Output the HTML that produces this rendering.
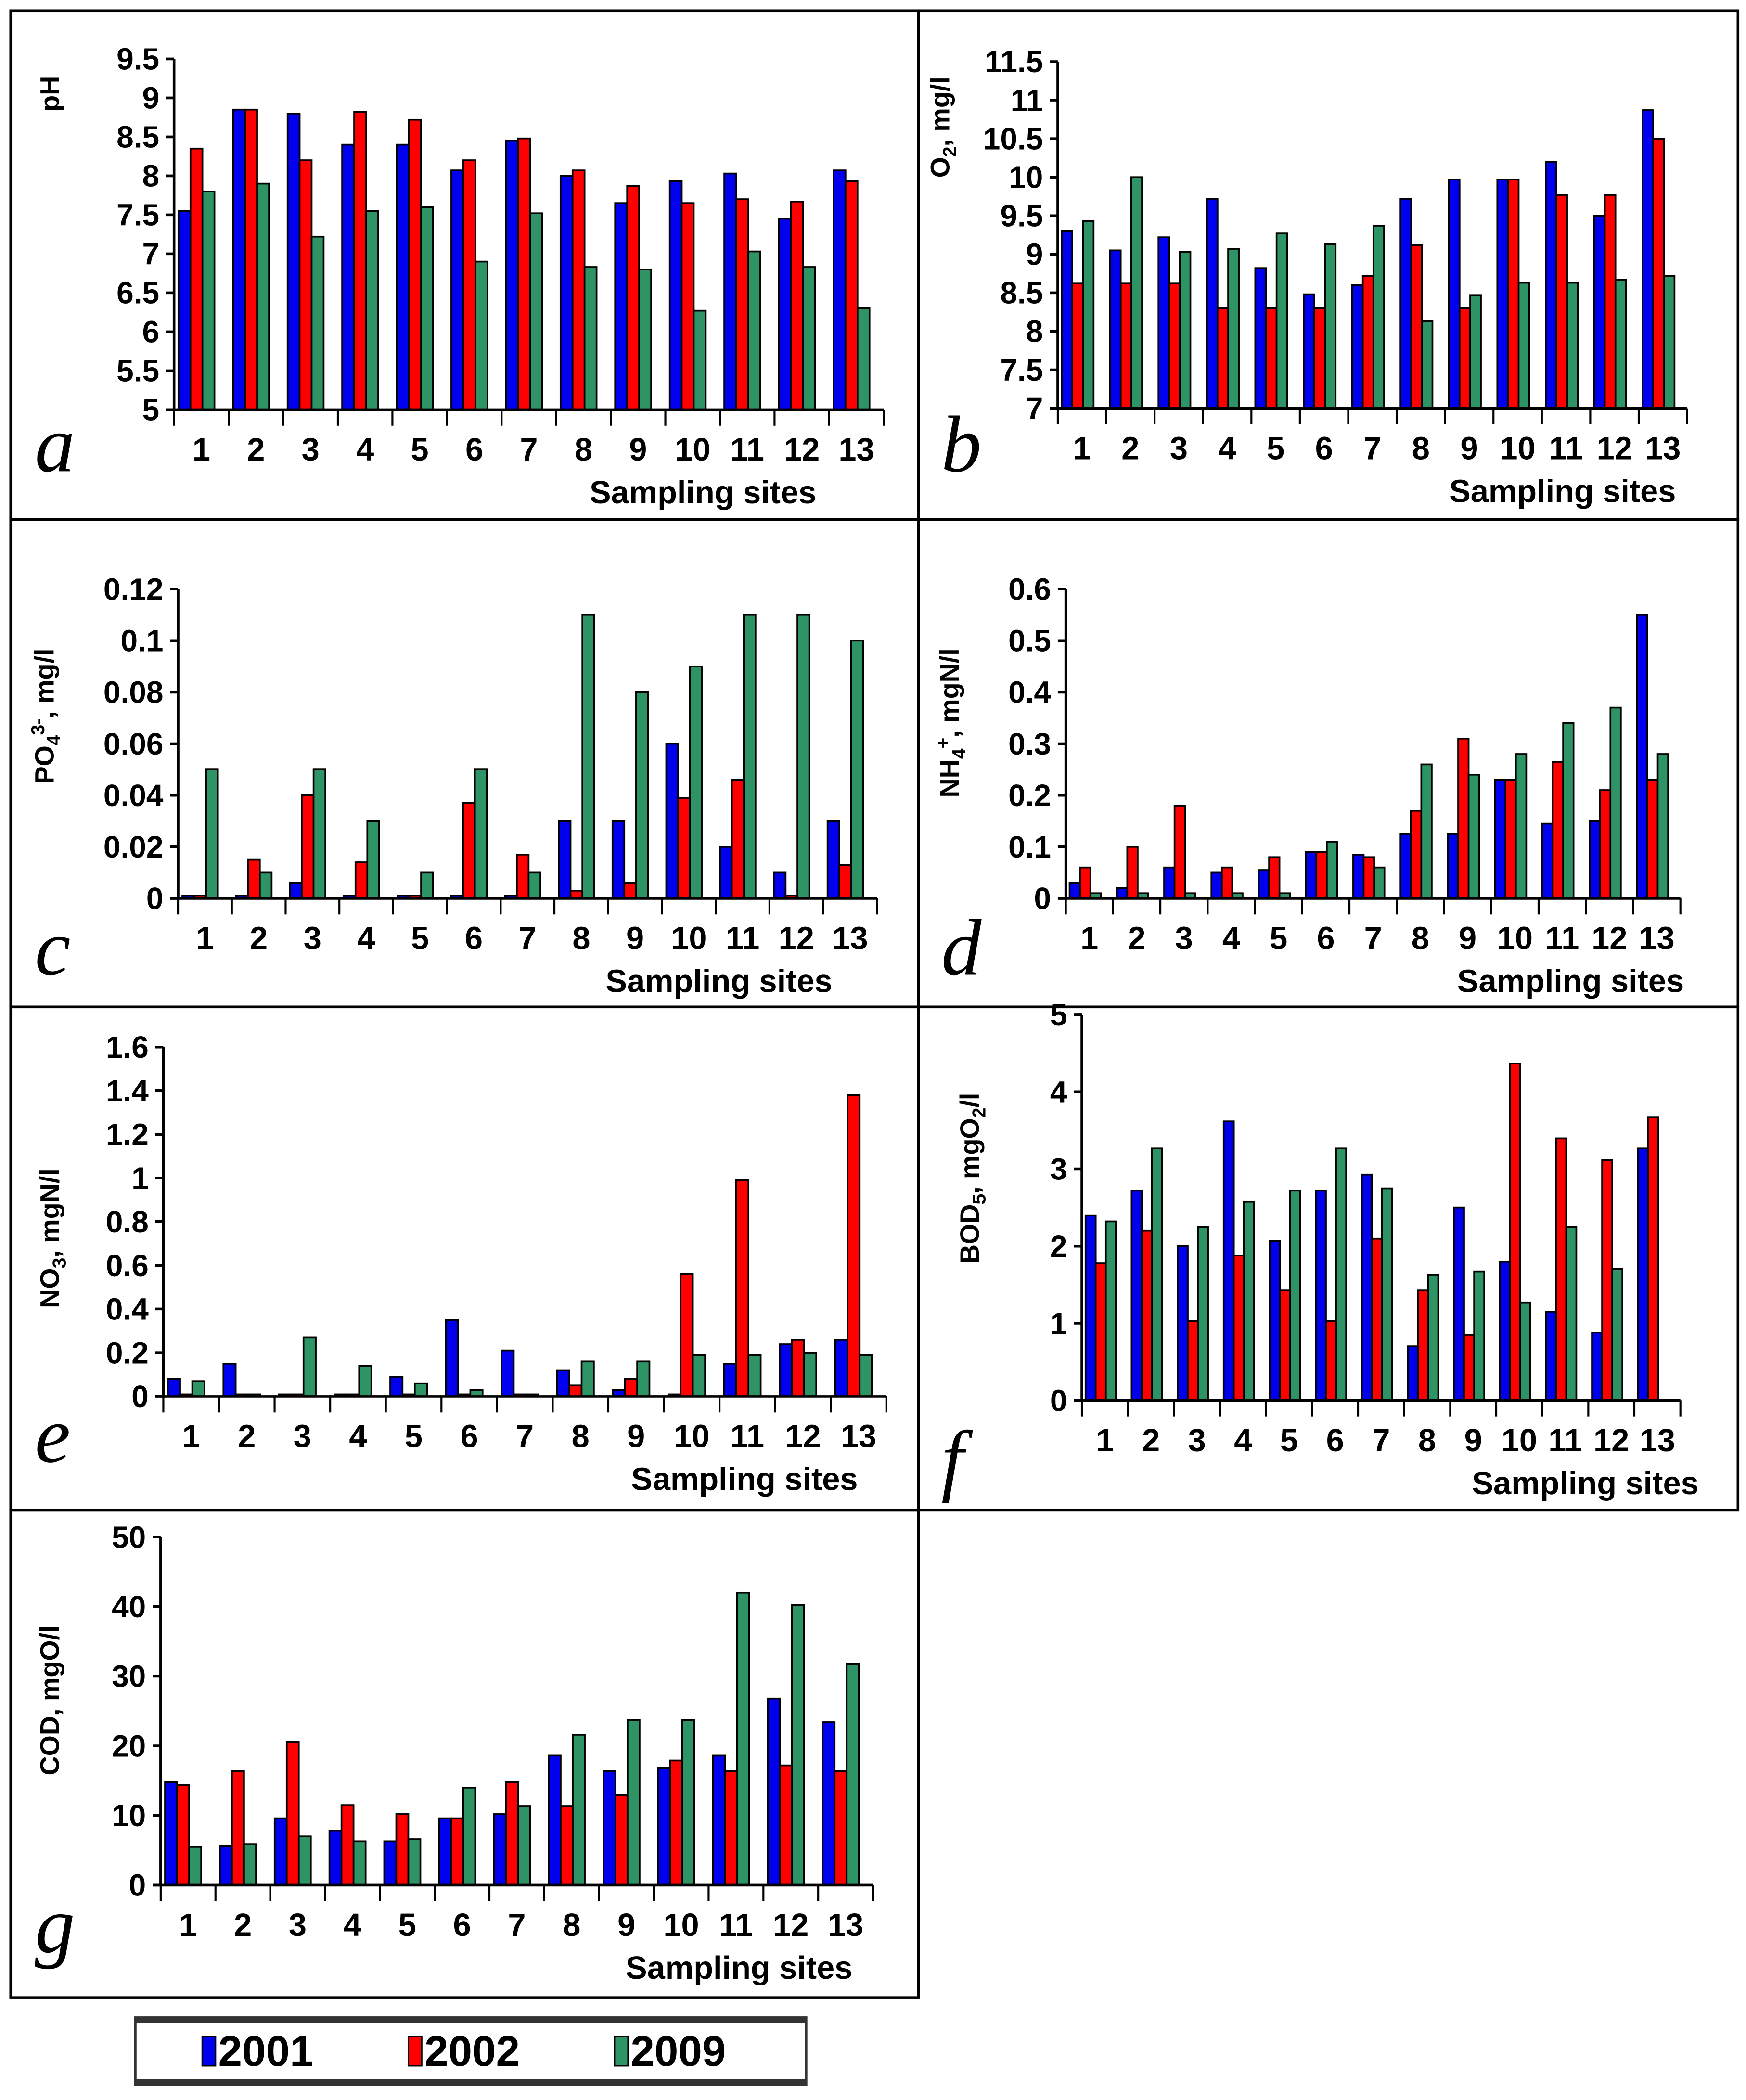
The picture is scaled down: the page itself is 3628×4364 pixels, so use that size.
<!DOCTYPE html>
<html><head><meta charset="utf-8"><style>
html,body{margin:0;padding:0;background:#fff;}
svg{display:block;}
text{font-family:"Liberation Sans Narrow","Liberation Sans",sans-serif;font-weight:bold;fill:#000;}
</style></head><body>
<svg id="fig" xmlns="http://www.w3.org/2000/svg" width="3628" height="4364" viewBox="0 0 1304 1568.5" preserveAspectRatio="none">
<rect x="0" y="0" width="1304" height="1568.5" fill="#fff"/>
<g id="frames" fill="none" stroke="#000" stroke-width="2">
<rect x="8" y="8" width="678" height="380"/>
<rect x="686" y="8" width="612" height="380"/>
<rect x="8" y="388" width="678" height="364"/>
<rect x="686" y="388" width="612" height="364"/>
<rect x="8" y="752" width="678" height="376"/>
<rect x="686" y="752" width="612" height="376"/>
<rect x="8" y="1128" width="678" height="364"/>
</g>
<g id="legend">
<rect x="101" y="1507" width="501" height="50" fill="#fff" stroke="#333" stroke-width="2"/>
<rect x="101" y="1507" width="501" height="4" fill="#333"/>
<rect x="101" y="1553" width="501" height="4" fill="#333"/>
<rect x="151" y="1521" width="10" height="22" fill="#0000ee" stroke="#000" stroke-width="1"/>
<text x="163" y="1543" font-size="32" style="font-family:'Liberation Sans',sans-serif">2001</text>
<rect x="305" y="1521" width="10" height="22" fill="#ff0000" stroke="#000" stroke-width="1"/>
<text x="317" y="1543" font-size="32" style="font-family:'Liberation Sans',sans-serif">2002</text>
<rect x="459" y="1521" width="10" height="22" fill="#2e9466" stroke="#000" stroke-width="1"/>
<text x="471" y="1543" font-size="32" style="font-family:'Liberation Sans',sans-serif">2009</text>
</g>
</svg>
<script>
const sites = ["1","2","3","4","5","6","7","8","9","10","11","12","13"];
const colors2001 = "#0000ee", colors2002 = "#ff0000", colors2009 = "#2e9466";
const pH2001 = [7.55,8.85,8.8,8.4,8.4,8.07,8.45,8.0,7.65,7.93,8.03,7.45,8.07];
const pH2002 = [8.35,8.85,8.2,8.82,8.72,8.2,8.48,8.07,7.87,7.65,7.7,7.67,7.93];
const pH2009 = [7.8,7.9,7.22,7.55,7.6,6.9,7.52,6.83,6.8,6.27,7.03,6.83,6.3];
const pHTicks = ["5","5.5","6","6.5","7","7.5","8","8.5","9","9.5"];
const o2_2001 = [9.3,9.05,9.22,9.72,8.82,8.48,8.6,9.72,9.97,9.97,10.2,9.5,10.87];
const o2_2002 = [8.62,8.62,8.62,8.3,8.3,8.3,8.72,9.12,8.3,9.97,9.77,9.77,10.5];
const o2_2009 = [9.43,10.0,9.03,9.07,9.27,9.13,9.37,8.13,8.47,8.63,8.63,8.67,8.72];
const o2Ticks = ["7","7.5","8","8.5","9","9.5","10","10.5","11","11.5"];
const po4_2001 = [0.001,0.001,0.006,0.001,0.001,0.001,0.001,0.03,0.03,0.06,0.02,0.01,0.03];
const po4_2002 = [0.001,0.015,0.04,0.014,0.001,0.037,0.017,0.003,0.006,0.039,0.046,0.001,0.013];
const po4_2009 = [0.05,0.01,0.05,0.03,0.01,0.05,0.01,0.11,0.08,0.09,0.11,0.11,0.1];
const po4Ticks = ["0","0.02","0.04","0.06","0.08","0.1","0.12"];
const nh4_2001 = [0.03,0.02,0.06,0.05,0.055,0.09,0.085,0.125,0.125,0.23,0.145,0.15,0.55];
const nh4_2002 = [0.06,0.1,0.18,0.06,0.08,0.09,0.08,0.17,0.31,0.23,0.265,0.21,0.23];
const nh4_2009 = [0.01,0.01,0.01,0.01,0.01,0.11,0.06,0.26,0.24,0.28,0.34,0.37,0.28];
const nh4Ticks = ["0","0.1","0.2","0.3","0.4","0.5","0.6"];
const no3_2001 = [0.08,0.15,0.01,0.01,0.09,0.35,0.21,0.12,0.03,0.01,0.15,0.24,0.26];
const no3_2002 = [0.01,0.01,0.01,0.01,0.01,0.01,0.01,0.05,0.08,0.56,0.99,0.26,1.38];
const no3_2009 = [0.07,0.01,0.27,0.14,0.06,0.03,0.01,0.16,0.16,0.19,0.19,0.2,0.19];
const no3Ticks = ["0","0.2","0.4","0.6","0.8","1","1.2","1.4","1.6"];
const bod2001 = [2.4,2.72,2.0,3.62,2.07,2.72,2.93,0.7,2.5,1.8,1.15,0.88,3.27];
const bod2002 = [1.78,2.2,1.03,1.88,1.43,1.03,2.1,1.43,0.85,4.37,3.4,3.12,3.67];
const bod2009 = [2.32,3.27,2.25,2.58,2.72,3.27,2.75,1.63,1.67,1.27,2.25,1.7,0];
const bodTicks = ["0","1","2","3","4","5"];
const cod2001 = [14.8,5.6,9.6,7.8,6.3,9.6,10.2,18.6,16.4,16.8,18.6,26.8,23.4];
const cod2002 = [14.4,16.4,20.5,11.5,10.2,9.6,14.8,11.3,12.9,17.9,16.4,17.2,16.4];
const cod2009 = [5.5,5.9,7.0,6.3,6.6,14.0,11.3,21.6,23.7,23.7,42.0,40.2,31.8];
const codTicks = ["0","10","20","30","40","50"];

const NS = "http://www.w3.org/2000/svg";
const svg = document.getElementById('fig');
function mk(tag, attrs, parent){const e=document.createElementNS(NS,tag);for(const k in attrs)e.setAttribute(k,attrs[k]);parent.appendChild(e);return e;}

function panel(cfg){
  const g = mk('g',{},svg);
  
  
  const ticks = cfg.ticks.map(Number);
  const ymin = ticks[0], ymax = ticks[ticks.length-1];
  const yScale = v => cfg.y0 - (Math.max(v,ymin)-ymin)/(ymax-ymin)*(cfg.y0-cfg.y1);
  const gw = (cfg.x1-cfg.x0)/sites.length;
  const xScale = (i,s) => cfg.x0 + i*gw + gw*0.08 + s*gw*0.22;
  const series = [[cfg.s1,colors2001,'2001'],[cfg.s2,colors2002,'2002'],[cfg.s3,colors2009,'2009']];
  series.forEach((sr,s)=>{
    sr[0].forEach((v,i)=>{
      if(v<=ymin) return;
      const y = yScale(v);
      const r = mk('rect',{x:xScale(i,s),y:y,width:gw*0.22,height:cfg.y0-y,fill:sr[1],stroke:'#000','stroke-width':1.3},g);
      
      
    });
  });
  const ax = mk('g',{stroke:'#000','stroke-width':2},g);
  
  
  mk('line',{x1:cfg.x0,y1:cfg.y1,x2:cfg.x0,y2:cfg.y0+1},ax);
  mk('line',{x1:cfg.x0-6,y1:cfg.y0,x2:cfg.x1,y2:cfg.y0},ax);
  ticks.forEach((t,k)=>{
    const y = yScale(t);
    mk('line',{x1:cfg.x0-6,y1:y,x2:cfg.x0,y2:y},ax);
    const tx = mk('text',{x:cfg.x0-11,y:y+8,'font-size':23,'text-anchor':'end'},g);
    tx.textContent = cfg.ticks[k];
    
    
  });
  for(let i=0;i<=sites.length;i++){
    const x = cfg.x0 + i*gw;
    mk('line',{x1:x,y1:cfg.y0,x2:x,y2:cfg.y0+12,'stroke-width':1.5},ax);
  }
  sites.forEach((s,i)=>{
    const tx = mk('text',{x:cfg.x0+(i+0.5)*gw,y:cfg.y0+38,'font-size':24,'text-anchor':'middle'},g);
    tx.textContent = s;
    
    
  });
  const xt = mk('text',{x:cfg.xtx,y:cfg.y0+70,'font-size':24,'text-anchor':'middle'},g);
  xt.textContent = 'Sampling sites';
  
  
  const yt = mk('text',{x:0,y:0,'font-size':20,'text-anchor':'middle',style:"font-family:'Liberation Sans',sans-serif",transform:'translate('+cfg.ytx+','+cfg.yty+') rotate(-90)'},g);
  yt.innerHTML = cfg.ytitle;
  
  
  const lt = mk('text',{x:cfg.lx,y:cfg.ly,'font-size':60,style:"font-family:'Liberation Serif',serif;font-style:italic;font-weight:normal"},g);
  lt.textContent = cfg.id;
  
  
}

panel({id:'a',x0:130,x1:660,y0:306,y1:44,ticks:pHTicks,s1:pH2001,s2:pH2002,s3:pH2009,xtx:525,ytx:44,yty:70,ytitle:'pH',lx:26,ly:352});
panel({id:'b',x0:790,x1:1260,y0:305,y1:46,ticks:o2Ticks,s1:o2_2001,s2:o2_2002,s3:o2_2009,xtx:1167,ytx:709,yty:95,ytitle:'O<tspan font-size="14" dy="5">2</tspan><tspan dy="-5">, mg/l</tspan>',lx:703,ly:352});
panel({id:'c',x0:133,x1:655,y0:671,y1:440,ticks:po4Ticks,s1:po4_2001,s2:po4_2002,s3:po4_2009,xtx:537,ytx:40,yty:535,ytitle:'PO<tspan font-size="14" dy="5">4</tspan><tspan font-size="14" dy="-12">3-</tspan><tspan dy="7">, mg/l</tspan>',lx:26,ly:728});
panel({id:'d',x0:796,x1:1255,y0:671,y1:440,ticks:nh4Ticks,s1:nh4_2001,s2:nh4_2002,s3:nh4_2009,xtx:1173,ytx:716,yty:540,ytitle:'NH<tspan font-size="14" dy="5">4</tspan><tspan font-size="14" dy="-12">+</tspan><tspan dy="7">, mgN/l</tspan>',lx:703,ly:728});
panel({id:'e',x0:122,x1:662,y0:1043,y1:782,ticks:no3Ticks,s1:no3_2001,s2:no3_2002,s3:no3_2009,xtx:556,ytx:44,yty:925,ytitle:'NO<tspan font-size="14" dy="5">3</tspan><tspan dy="-5">, mgN/l</tspan>',lx:26,ly:1092});
panel({id:'f',x0:808,x1:1255,y0:1046,y1:758,ticks:bodTicks,s1:bod2001,s2:bod2002,s3:bod2009,xtx:1184,ytx:731,yty:880,ytitle:'BOD<tspan font-size="14" dy="5">5</tspan><tspan dy="-5">, mgO</tspan><tspan font-size="14" dy="5">2</tspan><tspan dy="-5">/l</tspan>',lx:703,ly:1110});
panel({id:'g',x0:120,x1:652,y0:1408,y1:1148,ticks:codTicks,s1:cod2001,s2:cod2002,s3:cod2009,xtx:552,ytx:44,yty:1270,ytitle:'COD, mgO/l',lx:26,ly:1458});
</script>
</body></html>
